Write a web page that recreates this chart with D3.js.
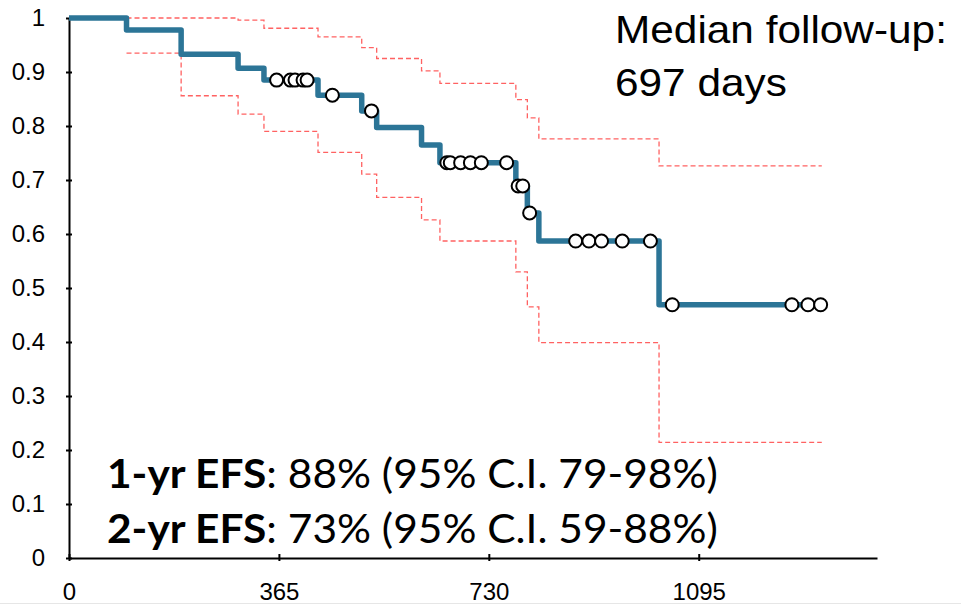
<!DOCTYPE html>
<html>
<head>
<meta charset="utf-8">
<script src="https://cdn.jsdelivr.net/npm/d3@7"></script>
<style>
  body { margin: 0; background: #fff; }
  svg { display: block; }
  .axis path, .axis line { stroke: #000; stroke-width: 2; }
  .axis text { font-family: "Liberation Sans", Arial, sans-serif; font-size: 24px; fill: #000; }
</style>
</head>
<body>
<div id="chart"></div>
<script>
var width = 961;
var height = 605;

// event times (days) and the KM estimate after each event
var eventDays = [100, 195, 294, 339, 433, 509, 535, 613, 645, 777, 797, 817, 1026];
var survival  = [0.978, 0.933, 0.907, 0.885, 0.857, 0.828, 0.797, 0.765, 0.732, 0.689, 0.639, 0.587, 0.469];
// 95% confidence limits after each event
var upperCI = [1, 1, 0.996, 0.981, 0.965, 0.945, 0.925, 0.902, 0.879, 0.849, 0.815, 0.776, 0.726];
var lowerCI = [0.935, 0.856, 0.822, 0.790, 0.751, 0.711, 0.668, 0.626, 0.587, 0.530, 0.465, 0.399, 0.214];
// censored observations
var censorDays = [361, 385, 393, 407, 414, 458, 526, 657, 663, 681, 698, 717, 761, 781, 789, 801,
                  881, 904, 926, 962, 1011, 1049, 1257, 1285, 1307];
var lastDay = 1309;

var xTicks = [0, 365, 730, 1095];
var yTicks = [0, 0.1, 0.2, 0.3, 0.4, 0.5, 0.6, 0.7, 0.8, 0.9, 1];

var svg = d3.select("#chart").append("svg")
    .attr("width", width)
    .attr("height", height);

var x = d3.scaleLinear().domain([0, 1405]).range([69, 877]);
var y = d3.scaleLinear().domain([0, 1]).range([558, 18]);

// survival value at a given day (step function)
function survAt(day) {
  var s = 1;
  eventDays.forEach(function(d, i) { if (d <= day) s = survival[i]; });
  return s;
}

var step = d3.line()
    .x(function(d) { return x(d[0]); })
    .y(function(d) { return y(d[1]); })
    .curve(d3.curveStepAfter);

// confidence bands
var upperPts = eventDays.map(function(d, i) { return [d, upperCI[i]]; });
upperPts.push([lastDay, upperCI[upperCI.length - 1]]);
var lowerPts = eventDays.map(function(d, i) { return [d, lowerCI[i]]; });
lowerPts.push([lastDay, lowerCI[lowerCI.length - 1]]);

[upperPts, lowerPts].forEach(function(pts) {
  svg.append("path")
      .attr("d", step(pts))
      .attr("fill", "none")
      .attr("stroke", "#ff6262")
      .attr("stroke-width", 1.3)
      .attr("stroke-dasharray", "5,3");
});

// axes
var yAxis = svg.append("g")
    .attr("class", "axis")
    .attr("transform", "translate(" + x(0) + ",0)")
    .call(d3.axisLeft(y).tickValues(yTicks).tickSizeOuter(0).tickSizeInner(3).tickPadding(21)
      .tickFormat(function(d) { return String(+d.toFixed(1)); }));
yAxis.selectAll(".tick line").attr("x1", -3).attr("x2", 3);

var xAxis = svg.append("g")
    .attr("class", "axis")
    .attr("transform", "translate(0," + y(0) + ")")
    .call(d3.axisBottom(x).tickValues(xTicks).tickSizeOuter(0).tickSizeInner(3).tickPadding(22)
      .tickFormat(function(d) { return String(d); }));
xAxis.selectAll(".tick line").attr("y1", -4).attr("y2", 3);

// KM curve
var kmPts = [[0, 1]].concat(eventDays.map(function(d, i) { return [d, survival[i]]; }));
kmPts.push([censorDays[censorDays.length - 1], survival[survival.length - 1]]);

svg.append("path")
    .attr("d", step(kmPts))
    .attr("fill", "none")
    .attr("stroke", "#2c7597")
    .attr("stroke-width", 5.5)
    .attr("stroke-linejoin", "round");

// censor marks
svg.selectAll(".censor")
    .data(censorDays)
  .enter().append("circle")
    .attr("class", "censor")
    .attr("cx", function(d) { return x(d); })
    .attr("cy", function(d) { return y(survAt(d)); })
    .attr("r", 6.5)
    .attr("fill", "#fff")
    .attr("stroke", "#000")
    .attr("stroke-width", 2);

// stretch a text element horizontally so it spans targetWidth
function fitWidth(t, x0, targetWidth) {
  var w = t.node().getComputedTextLength();
  var k = targetWidth / w;
  t.attr("transform", "translate(" + x0 + ",0) scale(" + k + ",1) translate(" + (-x0) + ",0)");
}

// annotations
var noteLines = [
  { text: "Median follow-up:", yPos: 43, w: 332 },
  { text: "697 days", yPos: 96, w: 172 }
];
var note1 = svg.append("text")
    .attr("x", 615).attr("y", noteLines[0].yPos)
    .attr("font-family", "Liberation Sans, Arial, sans-serif")
    .attr("font-size", 39)
    .attr("fill", "#000")
    .text(noteLines[0].text);
var k1 = noteLines[0].w / note1.node().getComputedTextLength();
fitWidth(note1, 615, noteLines[0].w);
var note2 = svg.append("text")
    .attr("x", 615).attr("y", noteLines[1].yPos)
    .attr("font-family", "Liberation Sans, Arial, sans-serif")
    .attr("font-size", 39)
    .attr("fill", "#000")
    .text(noteLines[1].text);
fitWidth(note2, 615, note2.node().getComputedTextLength() * k1);

var efs = [
  { label: "1-yr EFS", rest: ": 88% (95% C.I. 79-98%)", yPos: 488 },
  { label: "2-yr EFS", rest: ": 73% (95% C.I. 59-88%)", yPos: 543 }
];
efs.forEach(function(e) {
  var t = svg.append("text")
      .attr("x", 107)
      .attr("y", e.yPos)
      .attr("font-family", "Lato, 'Open Sans', sans-serif")
      .attr("font-size", 40)
      .attr("fill", "#000");
  t.append("tspan").attr("font-weight", "bold").text(e.label);
  t.append("tspan").text(e.rest);
  fitWidth(t, 107, 611);
});

svg.append("line")
    .attr("x1", 0).attr("x2", width)
    .attr("y1", 603.5).attr("y2", 603.5)
    .attr("stroke", "#e6e6e6")
    .attr("stroke-width", 1);
</script>
</body>
</html>
